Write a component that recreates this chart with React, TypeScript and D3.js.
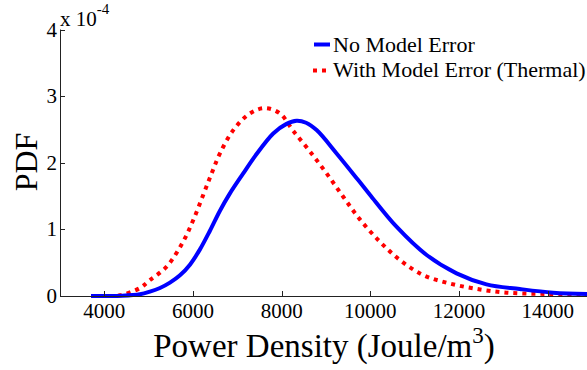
import React from "react";
import * as d3 from "d3";

const xTicks = [4000, 6000, 8000, 10000, 12000, 14000];
const yTicks = [0, 1, 2, 3, 4];

// PDF values in units of 1e-4
const noErrX = [3700, 4000, 4400, 4804, 5029, 5255, 5480, 5706, 5931, 6157, 6382, 6608, 6833, 7133, 7400, 7810, 8100, 8337, 8550, 8788, 9239, 9726, 9990, 10590, 11270, 11945, 12620, 13370, 14120, 14880, 15000];
const noErrY = [0, 0, 0.003, 0.025, 0.065, 0.12, 0.2, 0.31, 0.47, 0.7, 0.98, 1.28, 1.54, 1.84, 2.1, 2.44, 2.58, 2.63, 2.6, 2.49, 2.14, 1.74, 1.52, 1.04, 0.615, 0.34, 0.175, 0.105, 0.05, 0.03, 0.03];

const withErrX = [3700, 4000, 4353, 4804, 5029, 5405, 5781, 6006, 6232, 6420, 6608, 6908, 7284, 7622, 7960, 8260, 8637, 9013, 9388, 9764, 10215, 10667, 11190, 11720, 12320, 13070, 13970, 14880, 15000];
const withErrY = [0, 0, 0.01, 0.12, 0.24, 0.44, 0.82, 1.14, 1.52, 1.84, 2.14, 2.49, 2.74, 2.82, 2.74, 2.48, 2.17, 1.84, 1.49, 1.15, 0.815, 0.54, 0.315, 0.2, 0.115, 0.05, 0.03, 0.015, 0.015];

const seriesNames = ["No Model Error", "With Model Error (Thermal)"];

export default function App() {
  const x = d3.scaleLinear().domain([3000, 15000]).range([60, 592]);
  const y = d3.scaleLinear().domain([0, 4]).range([296, 29.5]);
  const line = d3
    .line<[number, number]>()
    .x((d) => x(d[0]))
    .y((d) => y(Math.max(0, d[1])))
    .curve(d3.curveCatmullRom.alpha(0.5));
  const blue = line(noErrX.map((v, i) => [v, noErrY[i]]) as [number, number][]) || "";
  const red = line(withErrX.map((v, i) => [v, withErrY[i]]) as [number, number][]) || "";
  const font = "'Liberation Serif', 'Times New Roman', serif";

  return (
    <svg
      width={587}
      height={370}
      style={{ position: "absolute", left: 0, top: 0, background: "#fff" }}
      fontFamily={font}
    >
      <rect width={587} height={370} fill="#fff" />
      <path d={red} fill="none" stroke="#ff0000" strokeWidth={4} strokeDasharray="4,5" />
      <path d={blue} fill="none" stroke="#0000ff" strokeWidth={4} />
      {/* axes */}
      <line x1={60} x2={592} y1={296.5} y2={296.5} stroke="#222" strokeWidth={1} />
      <line x1={60.5} x2={60.5} y1={29.5} y2={296.5} stroke="#222" strokeWidth={1} />
      {xTicks.map((t) => (
        <g key={"x" + t}>
          <line x1={Math.round(x(t)) + 0.5} x2={Math.round(x(t)) + 0.5} y1={296} y2={291} stroke="#222" />
          <text x={x(t)} y={318} textAnchor="middle" fontSize={21}>
            {t}
          </text>
        </g>
      ))}
      {yTicks.map((t) => (
        <g key={"y" + t}>
          <line x1={60} x2={65} y1={Math.round(y(t)) + 0.5} y2={Math.round(y(t)) + 0.5} stroke="#222" />
          <text x={57} y={y(t) + 7} textAnchor="end" fontSize={21}>
            {t}
          </text>
        </g>
      ))}
      <text x={60} y={26} fontSize={21}>
        x 10
        <tspan dy={-12} fontSize={15}>-4</tspan>
      </text>
      {/* labels */}
      <text x={324} y={357} textAnchor="middle" fontSize={33}>
        Power Density (Joule/m
        <tspan dy={-14} fontSize={23}>3</tspan>
        <tspan dy={14}>)</tspan>
      </text>
      <text transform="translate(37,162) rotate(-90)" textAnchor="middle" fontSize={32}>
        PDF
      </text>
      {/* legend */}
      <line x1={314} x2={330} y1={44.5} y2={44.5} stroke="#0000ff" strokeWidth={4} />
      <text x={333} y={52} fontSize={22}>{seriesNames[0]}</text>
      <line x1={313} x2={329} y1={70.5} y2={70.5} stroke="#ff0000" strokeWidth={4} strokeDasharray="4,5" />
      <text x={333} y={77} fontSize={22}>{seriesNames[1]}</text>
    </svg>
  );
}
